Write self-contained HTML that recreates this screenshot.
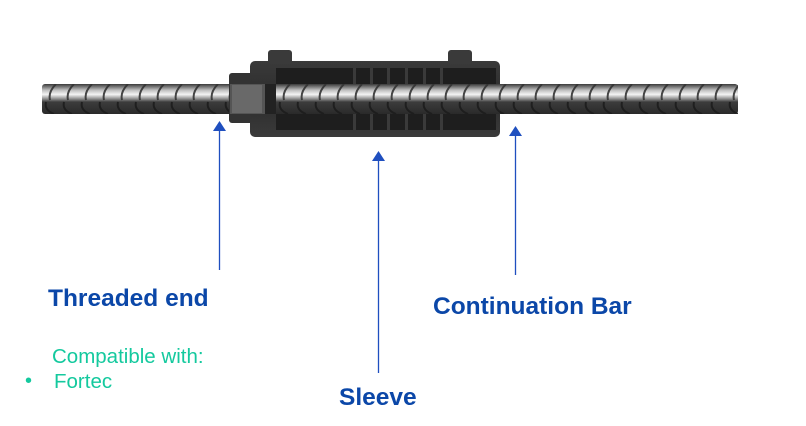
<!DOCTYPE html>
<html><head><meta charset="utf-8"><style>
html,body{margin:0;padding:0;background:#fff;width:806px;height:426px;overflow:hidden}
svg{display:block}
.b{font-family:"Liberation Sans",sans-serif;font-weight:bold;fill:#0b47a8}
.g{font-family:"Liberation Sans",sans-serif;fill:#14c99e}
</style></head><body>
<svg width="806" height="426" viewBox="0 0 806 426">
<defs>
<linearGradient id="bar" x1="0" y1="0" x2="0" y2="1">
<stop offset="0" stop-color="#3a3a3a"/><stop offset="0.2" stop-color="#bdbdbd"/><stop offset="0.35" stop-color="#f4f4f4"/><stop offset="0.5" stop-color="#8a8a8a"/><stop offset="0.6" stop-color="#3c3c3c"/><stop offset="1" stop-color="#2a2a2a"/>
</linearGradient>
<pattern id="rib" x="42" y="84" width="18" height="30" patternUnits="userSpaceOnUse">
<path d="M14 0 Q6 8 8 16" stroke="#333" stroke-width="2" fill="none"/>
<path d="M4 18 Q2 26 12 30" stroke="#1c1c1c" stroke-width="2" fill="none"/>
</pattern>
<linearGradient id="sl" x1="0" y1="0" x2="0" y2="1">
<stop offset="0" stop-color="#3a3a3a"/><stop offset="0.5" stop-color="#2c2c2c"/><stop offset="1" stop-color="#3a3a3a"/>
</linearGradient>
</defs>
<rect x="42" y="84" width="696" height="30" rx="3" fill="url(#bar)"/>
<rect x="42" y="84" width="696" height="30" fill="url(#rib)" opacity="0.9"/>
<rect x="229" y="73" width="24" height="50" rx="3" fill="#333"/>
<rect x="250" y="61" width="250" height="76" rx="5" fill="url(#sl)"/>
<rect x="268" y="50" width="24" height="14" rx="3" fill="#3a3a3a"/>
<rect x="448" y="50" width="24" height="14" rx="3" fill="#3a3a3a"/>
<rect x="276" y="68" width="220" height="16" fill="#1e1e1e"/>
<rect x="276" y="114" width="220" height="16" fill="#1e1e1e"/>
<g fill="#3a3a3a"><rect x="353" y="68" width="3" height="16"/><rect x="370" y="68" width="3" height="16"/><rect x="387" y="68" width="3" height="16"/><rect x="405" y="68" width="3" height="16"/><rect x="423" y="68" width="3" height="16"/><rect x="440" y="68" width="3" height="16"/>
<rect x="353" y="114" width="3" height="16"/><rect x="370" y="114" width="3" height="16"/><rect x="387" y="114" width="3" height="16"/><rect x="405" y="114" width="3" height="16"/><rect x="423" y="114" width="3" height="16"/><rect x="440" y="114" width="3" height="16"/></g>
<rect x="276" y="84" width="224" height="30" fill="url(#bar)"/>
<rect x="276" y="84" width="224" height="30" fill="url(#rib)" opacity="0.9"/>
<rect x="230" y="84" width="35" height="30" fill="#555"/>
<rect x="232" y="85" width="30" height="28" fill="#777" opacity="0.6"/>
<rect x="265" y="84" width="11" height="30" fill="#222"/>
<g stroke="#1f4fbf" stroke-width="1.3"><line x1="219.5" y1="130" x2="219.5" y2="270"/><line x1="378.5" y1="160" x2="378.5" y2="373"/><line x1="515.5" y1="135" x2="515.5" y2="275"/></g>
<g fill="#1f4fbf"><path d="M213 131 L219.5 121 L226 131Z"/><path d="M372 161 L378.5 151 L385 161Z"/><path d="M509 136 L515.5 126 L522 136Z"/></g>
<text class="b" x="48" y="306" font-size="24.5">Threaded end</text>
<text class="b" x="433" y="314" font-size="24.5">Continuation Bar</text>
<text class="b" x="339" y="405" font-size="24.5">Sleeve</text>
<text class="g" x="52" y="363" font-size="20.5">Compatible with:</text>
<text class="g" x="25" y="387" font-size="20">•</text>
<text class="g" x="54" y="388" font-size="20.5">Fortec</text>
</svg>
</body></html>
